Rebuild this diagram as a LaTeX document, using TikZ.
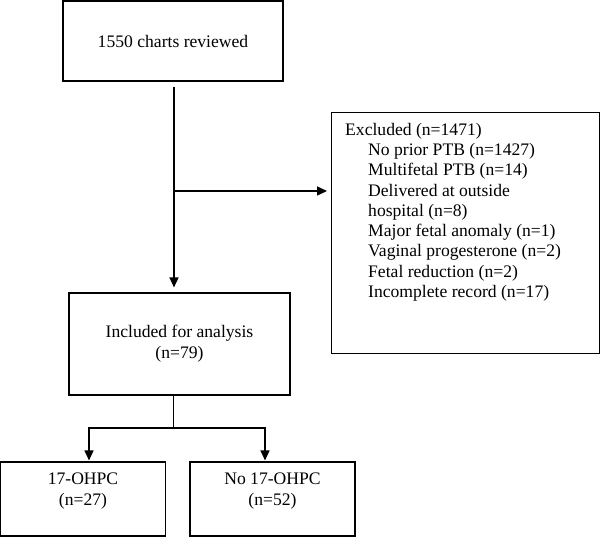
\documentclass[tikz,border=0pt]{standalone}
\usepackage{fontspec}
\setmainfont{Liberation Serif}
\usetikzlibrary{arrows.meta}

\tikzset{
  box/.style={draw, line width=1.1pt, align=center, inner sep=0pt},
  arr/.style={line width=1.5pt, -{Triangle[length=10pt,width=9pt]}},
}

\begin{document}
\begin{tikzpicture}[x=1pt, y=-1pt, font=\fontsize{17.6}{21}\selectfont]
        \useasboundingbox (0,0) rectangle (600,537);
        \node[box, minimum width=220, minimum height=80] (charts) at (173,41) {1550 charts reviewed};
        \node[box, minimum width=268, minimum height=241, anchor=north west] (excl) at (331,112) {};
        \node[anchor=north west, inner sep=0pt, align=left, font=\fontsize{17.6}{20.25}\selectfont] (exclList) at (345,123) {Excluded (n=1471)\\
            \hspace*{23pt}No prior PTB (n=1427)\\
            \hspace*{23pt}Multifetal PTB (n=14)\\
            \hspace*{23pt}Delivered at outside\\
            \hspace*{23pt}hospital (n=8)\\
            \hspace*{23pt}Major fetal anomaly (n=1)\\
            \hspace*{23pt}Vaginal progesterone (n=2)\\
            \hspace*{23pt}Fetal reduction (n=2)\\
            \hspace*{23pt}Incomplete record (n=17)};
        \node[box, minimum width=221, minimum height=102] (incl) at (179.5,344) {Included for analysis\\(n=79)};
        \node[box, minimum width=165, minimum height=74,
              label={[name=treatText, align=center, yshift=8pt]center:17-OHPC\\(n=27)}] (treat) at (83,499) {};
        \node[box, minimum width=165, minimum height=74,
              label={[name=noTreatText, align=center, yshift=8pt]center:No 17-OHPC\\(n=52)}] (noTreat) at (272.5,499) {};

        \coordinate (split) at (174,191);
        \coordinate (fork) at (173,428);

        \draw[arr] ([yshift=-5pt]charts.south -| split) -- ([yshift=5pt]incl.north -| split);
        \draw[arr] (split) -- ([xshift=-4pt]excl.west |- split);
        \draw[line width=0.9pt] (incl.south -| fork) -- (fork);
        \draw[arr] (fork) -| ([xshift=6pt,yshift=1pt]treat.north);
        \draw[arr] (fork) -| ([xshift=-7.5pt,yshift=1pt]noTreat.north);
        % \draw (excl.south) -- (incl.east);
\end{tikzpicture}
\end{document}
